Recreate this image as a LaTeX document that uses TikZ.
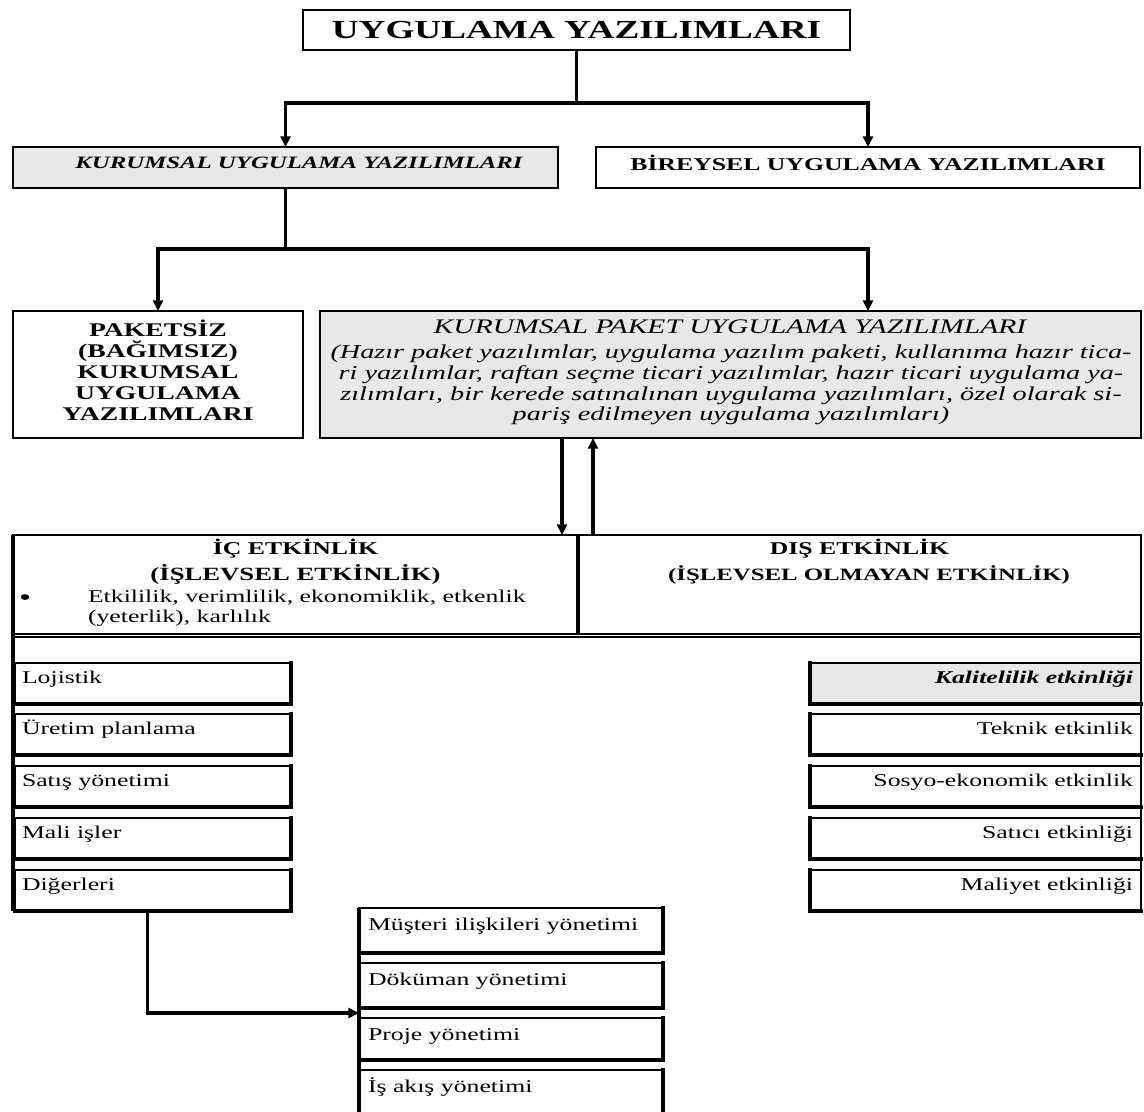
\documentclass[tikz,border=0pt]{standalone}
\usepackage{fontspec}
\setmainfont[FakeStretch=1.43]{Liberation Serif}
\usetikzlibrary{arrows.meta,calc}
\definecolor{boxgray}{HTML}{E8E8E8}
\tikzset{
  box/.style={draw, line width=1.6pt, rectangle, inner sep=0pt, outer sep=0pt},
  graybox/.style={box, fill=boxgray},
  conn/.style={line width=2.6pt},
  arr/.style={conn, -{Triangle[length=8pt,width=7.5pt]}},
  thickside/.style={line width=3pt, line cap=rect},
  txt/.style={inner sep=0pt, outer sep=0pt},
}
\newcommand\bx[6]{%
  \pgfmathsetmacro\bxw{(#4-#2)*0.75}%
  \pgfmathsetmacro\bxh{(#5-#3)*0.75}%
  \node[#6, anchor=north west, minimum width=\bxw pt, minimum height=\bxh pt] (#1) at (#2,#3) {};}
\newcommand\fTitle{\fontsize{19.5}{22}\selectfont}
\newcommand\fBig{\fontsize{14.5}{15.75}\selectfont}
\newcommand\fMid{\fontsize{13.5}{15.5}\selectfont}
\newcommand\fPar{\fontsize{14.8}{15.5}\selectfont}
\newcommand\fItem{\fontsize{13.5}{15}\selectfont}
\begin{document}
\begin{tikzpicture}[x=0.75pt,y=-0.75pt]
\useasboundingbox[fill=white] (0,0) rectangle (1144,1111);
% top level
\bx{title}{303}{10}{850}{50}{box}
\node[txt, anchor=base, font=\fTitle\bfseries] (titlet) at (576.5,38) {UYGULAMA YAZILIMLARI};
\bx{ku}{13}{147}{558}{188}{graybox}
\node[txt, anchor=base, font=\fontsize{13}{15}\selectfont\bfseries\itshape] (kut) at (299,168) {KURUMSAL UYGULAMA YAZILIMLARI};
\bx{bi}{596}{147}{1140}{188}{box}
\node[txt, anchor=base, font=\fMid\bfseries] (bit) at (868,170) {BİREYSEL UYGULAMA YAZILIMLARI};
\draw[conn] (title.south) -- ($(title.south)+(0,53)$) coordinate (j1);
\draw[arr] (j1) -| (ku.north);
\draw[arr] (j1) -| (bi.north);
% second level
\bx{pk}{13}{311}{303}{438}{box}
\node[txt, align=center, font=\fBig\bfseries] (pkt) at (158,370) {PAKETSİZ\\(BAĞIMSIZ)\\KURUMSAL\\UYGULAMA\\YAZILIMLARI};
\bx{kp}{320}{311}{1141}{438}{graybox}
\node[txt, anchor=base, font=\fontsize{15.5}{17}\selectfont\itshape] (kpt) at (730,333) {KURUMSAL PAKET UYGULAMA YAZILIMLARI};
\node[txt, anchor=north, align=center, font=\fPar\itshape] (kpp) at (731,345) {%
(Hazır paket yazılımlar, uygulama yazılım paketi, kullanıma hazır tica-\\
ri yazılımlar, raftan seçme ticari yazılımlar, hazır ticari uygulama ya-\\
zılımları, bir kerede satınalınan uygulama yazılımları, özel olarak si-\\
pariş edilmeyen uygulama yazılımları)};
\draw[conn] (ku.south) -- ($(ku.south)+(0,61)$) coordinate (j2);
\draw[arr] (j2) -| (pk.north);
\draw[arr] (j2) -| (bi.south |- kp.north);
% effectiveness boxes
\bx{ic}{13}{535}{578}{634}{box}
\bx{dis}{578}{535}{1141}{634}{box}
\node[txt, anchor=base, font=\fMid\bfseries] (ict1) at (295.5,554) {İÇ ETKİNLİK};
\node[txt, anchor=base, font=\fontsize{14}{15.5}\selectfont\bfseries] (ict2) at (295.5,580) {(İŞLEVSEL ETKİNLİK)};
\node[txt, anchor=base west, font=\fontsize{18}{18}\selectfont] (icb) at (19,605) {\textbullet};
\node[txt, anchor=base west, font=\fItem] (ict3) at (88,602) {Etkililik, verimlilik, ekonomiklik, etkenlik};
\node[txt, anchor=base west, font=\fItem] (ict4) at (88,622) {(yeterlik), karlılık};
\node[txt, anchor=base, font=\fMid\bfseries] (dist1) at (859.5,554) {DIŞ ETKİNLİK};
\node[txt, anchor=base, font=\fontsize{13}{15}\selectfont\bfseries] (dist2) at (869,580) {(İŞLEVSEL OLMAYAN ETKİNLİK)};
\draw[arr] ($(kp.south west)+(242,0)$) -- ($(ic.north east)+(-16,0)$);
\draw[arr] ($(ic.north east)+(15,0)$) -- ($(kp.south west)+(273,0)$);
% left list
\foreach \n/\t/\y in {1/Lojistik/663, 2/Üretim planlama/714, 3/Satış yönetimi/766, 4/Mali işler/818, 5/Diğerleri/870}{
  \pgfmathsetmacro\yb{\y+41}
  \bx{l\n}{15}{\y}{291}{\yb}{box}
  \draw[thickside] (l\n.north east) -- (l\n.south east) -- (l\n.south west);
  \node[txt, anchor=base west, font=\fItem] (lt\n) at (22,\y+20) {\t};
}
% right list
\bx{r1}{810}{663}{1141}{704}{graybox}
\draw[thickside] (r1.north west) -- (r1.south west) -- (r1.south east);
\node[txt, anchor=base east, font=\fItem\bfseries\itshape] (rt1) at (1133,683) {Kalitelilik etkinliği};
\foreach \n/\t/\y in {2/Teknik etkinlik/714, 3/Sosyo-ekonomik etkinlik/766, 4/Satıcı etkinliği/818, 5/Maliyet etkinliği/870}{
  \pgfmathsetmacro\yb{\y+41}
  \bx{r\n}{810}{\y}{1141}{\yb}{box}
  \draw[thickside] (r\n.north west) -- (r\n.south west) -- (r\n.south east);
  \node[txt, anchor=base east, font=\fItem] (rt\n) at (1133,\y+20) {\t};
}
% frame lines
\draw[line width=3.5pt] (ic.north west) -- (ic.north west |- l5.south west) coordinate (fl);
\draw[line width=3.5pt] (ic.north east) -- (ic.south east);
\draw[line width=1.5pt] (dis.north east) -- (dis.north east |- r5.south east);
\draw[line width=1pt] ($(ic.south west)+(0,3)$) -- ($(dis.south east)+(0,3)$);
% bottom list
\foreach \n/\t/\y/\h in {1/Müşteri ilişkileri yönetimi/908/45, 2/Döküman yönetimi/963/45, 3/Proje yönetimi/1018/42, 4/İş akış yönetimi/1070/46}{
  \pgfmathsetmacro\yb{\y+\h}
  \bx{m\n}{359}{\y}{663}{\yb}{box}
  \draw[thickside] (m\n.north east) -- (m\n.south east) -- (m\n.south west);
  \node[txt, anchor=base west, font=\fItem] (mt\n) at (368,\y+22) {\t};
}
\draw[line width=3.5pt] (m1.north west) -- (m4.south west);
\coordinate (entry) at ($(m2.south west)!0.5!(m3.north west)$);
\draw[arr] ($(l5.south west)!0.48!(l5.south east)$) |- (entry);
\end{tikzpicture}
\end{document}
